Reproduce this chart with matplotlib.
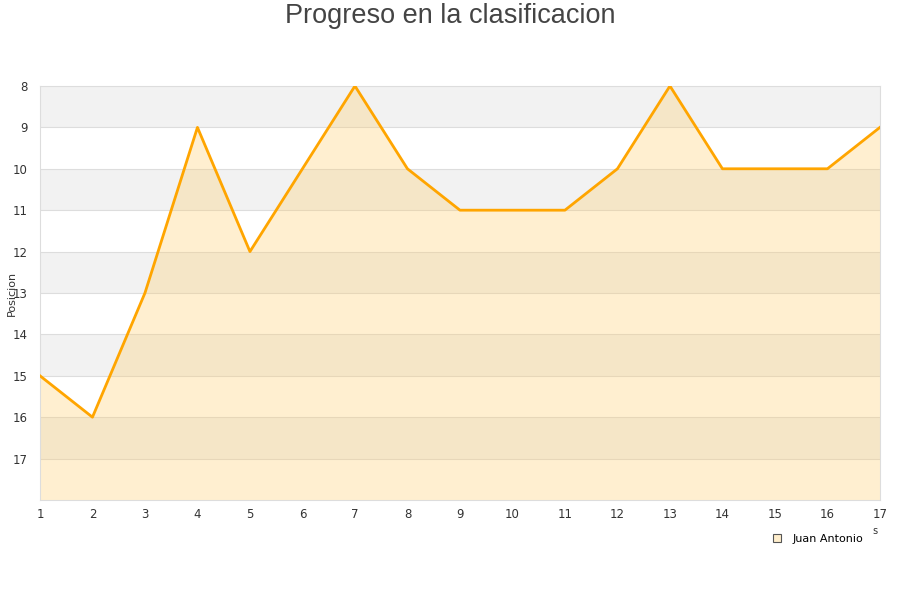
import matplotlib
matplotlib.use("Agg")
import matplotlib.pyplot as plt
from matplotlib.lines import Line2D

# data
jornadas = list(range(1, 18))
posiciones = [15, 16, 13, 9, 12, 10, 8, 10, 11, 11, 11, 10, 8, 10, 10, 10, 9]
ytick_vals = list(range(8, 18))
serie = "Juan Antonio"

fig = plt.figure(figsize=(9, 6), dpi=100)
ax = fig.add_axes([0.0444, 0.1667, 0.9333, 0.69])

y_top, y_bottom = 8, 18
# alternating horizontal bands
for lo in range(y_top, y_bottom, 2):
    ax.axhspan(lo, lo + 1, color="#f2f2f2", zorder=0, lw=0)
for y in range(y_top + 1, y_bottom):
    ax.axhline(y, color="#dddddd", lw=0.8, zorder=1)

ax.fill_between(jornadas, posiciones, y_bottom, color="#ffcc66", alpha=0.3, lw=0, zorder=2)
ax.plot(jornadas, posiciones, color="#ffa500", lw=2, zorder=3)

ax.set_xlim(1, 17)
ax.set_ylim(y_bottom, y_top)
ax.set_xticks(jornadas)
ax.set_yticks(ytick_vals)
ax.tick_params(length=0, labelsize=8.5, colors="#333333", pad=6)
ax.tick_params(axis="y", pad=9)
for s in ax.spines.values():
    s.set_color("#dddddd")
ax.set_ylabel("Posicion", fontsize=8, color="#333333")
ax.yaxis.set_label_coords(-0.028, 0.5)

fig.text(0.5, 0.995, "Progreso en la clasificacion", ha="center", va="top",
         fontsize=19.5, color="#444444", family="Liberation Sans")
fig.text(0.972, 0.11, "s", fontsize=7, color="#333333", ha="center")

handle = Line2D([], [], marker="s", ls="", markersize=6, markerfacecolor="#ffeecc",
                markeredgecolor="#555555", markeredgewidth=0.8)
fig.legend([handle], [serie], loc="upper left", bbox_to_anchor=(0.846, 0.127),
           frameon=False, fontsize=8, handletextpad=0.9, handlelength=1)

fig.savefig("out.png", dpi=100)
